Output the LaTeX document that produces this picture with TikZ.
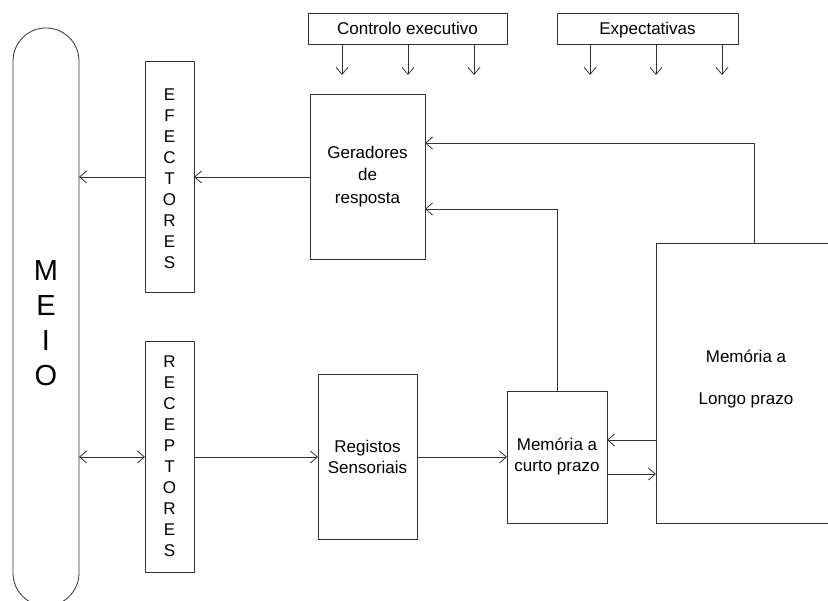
\documentclass[tikz,border=0pt]{standalone}
\usepackage{fontspec}
\setmainfont{Liberation Sans}
\usetikzlibrary{arrows.meta}
\begin{document}
\begin{tikzpicture}[x=1pt,y=-1pt,
  every node/.style={inner sep=0pt,outer sep=0pt},
  box/.style={draw=black!80,line width=0.8pt,font=\fontsize{17}{21}\selectfont,align=center},
  conn/.style={draw=black!80,line width=0.8pt,-{Straight Barb[length=7pt,width=12pt]}},
  plain/.style={draw=black!80,line width=0.8pt},
  lbl/.style={font=\fontsize{17}{21}\selectfont,align=center}]
\useasboundingbox (0,0) rectangle (828,601);
\clip (0,0) rectangle (828,601);
% MEIO
\node[draw=black!80,line width=0.8pt,rounded corners=33pt,minimum width=66pt,minimum height=578pt] (meio) at (46,317) {};
\node[font=\fontsize{29}{35}\selectfont,align=center] (meiotxt) at (46,323) {M\\E\\I\\O};
% effectors / receptors
\node[box,minimum width=49pt,minimum height=231pt] (efe) at (169.5,176.5) {\\[-4pt]E\\F\\E\\C\\T\\O\\R\\E\\S};
\node[box,minimum width=49pt,minimum height=231pt] (rec) at (169.5,456.5) {R\\E\\C\\E\\P\\T\\O\\R\\E\\S};
% top boxes
\node[box,minimum width=199pt,minimum height=31pt,text height=12.5pt,text depth=0pt] (ctrl) at (407.5,28.5) {Controlo executivo};
\node[box,minimum width=181pt,minimum height=31pt,text height=12.5pt,text depth=0pt] (exp) at (647.5,28.5) {Expectativas};
% main boxes
\node[box,minimum width=115pt,minimum height=165pt,font=\fontsize{17}{22.5}\selectfont] (ger) at (367.5,176.5) {Geradores\\de\\resposta};
\node[box,minimum width=99pt,minimum height=165pt] (reg) at (367.5,456.5) {Registos\\Sensoriais};
\node[box,minimum width=100pt,minimum height=132pt] (stm) at (557,457) {Memória a\\curto prazo};
\node[box,minimum width=180pt,minimum height=280pt] (ltm) at (746,383) {};
\node[lbl] (ltmtxt) at (746,379.5) {Memória a\\[21pt]Longo prazo};
% arrows from top boxes
\foreach \x/\n in {342/c1,408/c2,474/c3}{
  \coordinate (\n) at (\x,75);
  \draw[conn] (ctrl.south -| \n) -- (\n);
}
\foreach \x/\n in {590/e1,656/e2,722/e3}{
  \coordinate (\n) at (\x,75);
  \draw[conn] (exp.south -| \n) -- (\n);
}
% connectors
\draw[conn] (efe.west |- 0,177) -- (meio.east |- 0,177);
\draw[conn] (ger.west |- 0,177) -- (efe.east |- 0,177);
\draw[conn] (ltm.north -| 754,0) -- (754,143) -- (ger.east |- 0,143);
\draw[conn] (stm.north) -- (557,209) -- (ger.east |- 0,209);
\draw[conn,{Straight Barb[length=7pt,width=12pt]}-{Straight Barb[length=7pt,width=12pt]}] (meio.east |- 0,457) -- (rec.west |- 0,457);
\draw[conn] (rec.east |- 0,457) -- (reg.west |- 0,457);
\draw[conn] (reg.east |- 0,457) -- (stm.west |- 0,457);
\draw[conn] (ltm.west |- 0,440) -- (stm.east |- 0,440);
\draw[conn] (stm.east |- 0,474) -- (ltm.west |- 0,474);
\end{tikzpicture}
\end{document}
